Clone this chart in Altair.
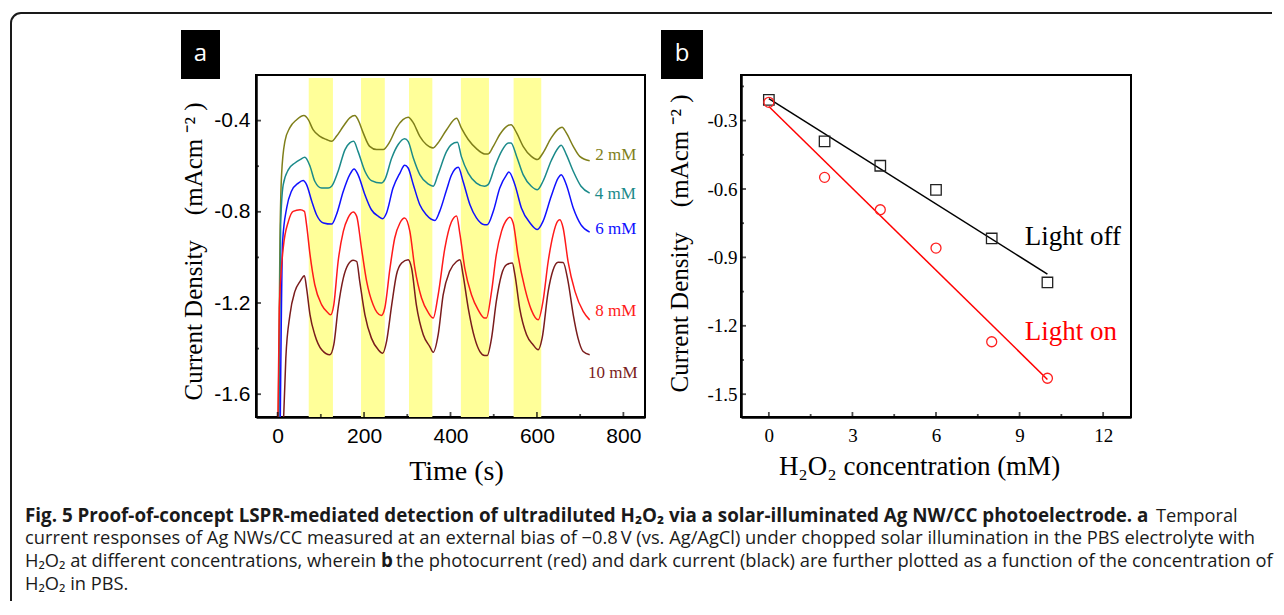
import altair as alt
import pandas as pd

# ---------------- panel a data ----------------
BAND_START = [72, 193, 304, 424, 546]
BAND_END = [128, 248, 358, 489, 610]

T_2MM = [1.5, 5.4, 9.2, 17, 28, 44, 61, 71, 82, 98, 113, 125, 136, 152, 167, 179, 186, 198, 213, 229,
         244, 260, 275, 290, 302, 314, 329, 344, 360, 371, 391, 414, 425, 441, 460, 479, 487, 499, 514, 530,
         540, 553, 568, 587, 601, 614, 633, 649, 658, 668, 684, 699, 722]
Y_2MM = [-1.75, -0.93, -0.637, -0.49, -0.432, -0.396, -0.378, -0.396, -0.44, -0.469, -0.483, -0.491, -0.469,
         -0.425, -0.388, -0.378, -0.396, -0.454, -0.513, -0.527, -0.527, -0.491, -0.432, -0.396, -0.385, -0.41,
         -0.469, -0.505, -0.52, -0.498, -0.44, -0.39, -0.432, -0.483, -0.523, -0.546, -0.546, -0.513, -0.461,
         -0.425, -0.418, -0.454, -0.513, -0.557, -0.571, -0.542, -0.476, -0.437, -0.429, -0.454, -0.513, -0.557,
         -0.576]

T_4MM = [3, 7, 13, 25, 40, 52, 63, 75, 86, 102, 117, 125, 140, 156, 167, 176, 186, 202, 217, 240,
         248, 264, 279, 294, 302, 314, 329, 348, 360, 371, 391, 402, 416, 425, 441, 460, 479, 487, 503, 518,
         534, 540, 553, 568, 587, 601, 614, 633, 649, 656, 668, 684, 702, 722]
Y_4MM = [-1.75, -0.857, -0.681, -0.615, -0.586, -0.571, -0.561, -0.6, -0.666, -0.696, -0.696, -0.688, -0.622,
         -0.527, -0.498, -0.491, -0.535, -0.622, -0.663, -0.674, -0.659, -0.564, -0.505, -0.48, -0.491, -0.564,
         -0.637, -0.678, -0.688, -0.637, -0.535, -0.505, -0.495, -0.557, -0.63, -0.674, -0.688, -0.681, -0.6,
         -0.535, -0.498, -0.498, -0.557, -0.637, -0.688, -0.703, -0.666, -0.576, -0.52, -0.508, -0.549, -0.622,
         -0.688, -0.718]

T_6MM = [6, 11.6, 21, 32, 48, 59, 67, 79, 90, 106, 125, 136, 152, 167, 177, 186, 202, 217, 233, 243,
         252, 267, 283, 294, 302, 314, 329, 344, 364, 375, 391, 402, 418, 429, 445, 460, 479, 485, 499, 514,
         530, 535, 549, 564, 584, 601, 614, 633, 649, 656, 668, 684, 702, 722]
Y_6MM = [-1.75, -0.93, -0.783, -0.71, -0.674, -0.663, -0.681, -0.754, -0.813, -0.849, -0.854, -0.813, -0.71,
         -0.637, -0.612, -0.637, -0.725, -0.791, -0.82, -0.83, -0.805, -0.696, -0.63, -0.596, -0.608, -0.681,
         -0.769, -0.813, -0.838, -0.798, -0.703, -0.64, -0.605, -0.666, -0.769, -0.827, -0.857, -0.857, -0.798,
         -0.696, -0.637, -0.625, -0.681, -0.783, -0.849, -0.878, -0.842, -0.732, -0.652, -0.637, -0.681, -0.783,
         -0.857, -0.889]

T_8MM = [0.5, 3.9, 13, 25, 36, 52, 62, 67, 75, 86, 102, 117, 122.5, 130, 140, 152, 163, 175, 183, 194,
         206, 221, 240, 248, 260, 271, 283, 294, 306, 317.5, 333, 348, 360, 371.5, 387, 402, 414, 422, 433,
         448.5, 464, 479, 483, 495, 506, 518, 530, 537, 545, 556, 572, 587, 603, 614, 626, 637.5, 647.6, 653,
         660.6, 672, 688, 707, 722]
Y_8MM = [-1.75, -1.222, -0.959, -0.842, -0.798, -0.791, -0.798, -0.857, -0.988, -1.12, -1.208, -1.244, -1.252,
         -1.208, -1.018, -0.886, -0.827, -0.801, -0.82, -0.959, -1.105, -1.208, -1.255, -1.222, -1.047, -0.915,
         -0.849, -0.827, -0.886, -1.047, -1.178, -1.24, -1.266, -1.164, -0.959, -0.845, -0.818, -0.9, -1.047,
         -1.164, -1.23, -1.266, -1.266, -1.149, -0.988, -0.886, -0.835, -0.824, -0.849, -0.988, -1.135, -1.23,
         -1.274, -1.193, -1.018, -0.9, -0.842, -0.835, -0.871, -1.018, -1.149, -1.237, -1.274]

T_10MM = [13, 19, 28.5, 40, 52, 62, 67, 75, 86, 102, 121, 130, 140, 152, 163, 175, 183, 190, 202, 217,
          233, 243, 252, 264, 275, 287, 302, 310, 321, 337, 352, 360, 371.5, 383, 398, 414, 422, 429, 441, 456,
          468, 479, 485, 495, 506, 518, 530, 543, 549, 560, 576, 591, 603, 612, 626, 637.5, 649, 660.6, 672, 684,
          695, 707, 722]
Y_10MM = [-1.75, -1.442, -1.252, -1.149, -1.105, -1.08, -1.135, -1.252, -1.339, -1.405, -1.427, -1.383, -1.222,
          -1.091, -1.032, -1.012, -1.018, -1.105, -1.252, -1.354, -1.405, -1.42, -1.369, -1.208, -1.076, -1.025,
          -1.01, -1.047, -1.208, -1.339, -1.391, -1.416, -1.339, -1.164, -1.061, -1.018, -1.01, -1.076, -1.222,
          -1.354, -1.413, -1.43, -1.43, -1.354, -1.193, -1.076, -1.032, -1.025, -1.076, -1.222, -1.339, -1.383,
          -1.405, -1.354, -1.149, -1.054, -1.021, -1.022, -1.105, -1.252, -1.354, -1.413, -1.427]

SERIES = ["2 mM", "4 mM", "6 mM", "8 mM", "10 mM"]
COLORS = ["#7f7f1a", "#1b8a8a", "#1010ff", "#ff1a1a", "#7a1c1c"]
LABEL_T = [735, 734, 735, 735, 718]
LABEL_Y = [-0.549, -0.722, -0.875, -1.234, -1.509]

XA_TICKS = [0, 200, 400, 600, 800]
XA_MINOR = [100, 300, 500, 700]
YA_TICKS = [-0.4, -0.8, -1.2, -1.6]
YA_MINOR = [-0.6, -1.0, -1.4]

# ---------------- panel b data ----------------
CONC = [0, 2, 4, 6, 8, 10]
DARK = [-0.209, -0.391, -0.498, -0.604, -0.817, -1.01]
PHOTO = [-0.22, -0.549, -0.691, -0.859, -1.27, -1.43]
LIGHT_LABELS = ["Light off", "Light on"]
LIGHT_X = [9.19, 9.19]
LIGHT_Y = [-0.812, -1.229]

XB_TICKS = [0, 3, 6, 9, 12]
XB_MINOR = [1.5, 4.5, 7.5, 10.5]
YB_TICKS = [-0.3, -0.6, -0.9, -1.2, -1.5]
YB_MINOR = [-0.15, -0.45, -0.75, -1.05, -1.35]

# ---------------- texts ----------------
Y_TITLE = "Current Density\u00a0\u00a0\u00a0\u00a0(mAcm\u00a0\u207b\u00b2\u00a0)"
XA_TITLE = "Time (s)"
XB_TITLE = "H\u2082O\u2082 concentration (mM)"
CAP_L1_BOLD = "Fig. 5 Proof-of-concept LSPR-mediated detection of ultradiluted H\u2082O\u2082 via a solar-illuminated Ag NW/CC photoelectrode. a"
CAP_L1_REG = "Temporal"
CAP_L2 = "current responses of Ag NWs/CC measured at an external bias of \u22120.8\u2009V (vs. Ag/AgCl) under chopped solar illumination in the PBS electrolyte with"
CAP_L3A = "H\u2082O\u2082 at different concentrations, wherein"
CAP_L3B = "b"
CAP_L3C = "the photocurrent (red) and dark current (black) are further plotted as a function of the concentration of"
CAP_L4 = "H\u2082O\u2082 in PBS."

W_A, W_B, H = 389, 390, 342
SERIF = "Liberation Serif"
NEG_LABEL = "(datum.value < 0 ? '-' : '') + format(abs(datum.value), '.1f')"

# ---------------- panel a ----------------
AXIS_XA = alt.Axis(values=XA_TICKS, ticks=False, tickSize=0, labelPadding=8, labelFont="Liberation Sans",
                   labelFontSize=21, labelColor="black", labelFlush=False, format="d",
                   title=XA_TITLE, titleFont=SERIF, titleFontSize=28, titleFontWeight="normal",
                   titleColor="black", titleX=200, titleY=54, titleBaseline="middle", titleAlign="center",
                   domainColor="black", domainWidth=2.5, grid=False)
AXIS_YA = alt.Axis(values=YA_TICKS, ticks=False, tickSize=0, labelPadding=6, labelFont="Liberation Sans",
                   labelFontSize=21, labelColor="black", labelExpr=NEG_LABEL, labelFlush=False,
                   title=Y_TITLE, titleFont=SERIF, titleFontSize=25, titleFontWeight="normal",
                   titleColor="black", titleX=-63, titleY=176, titleAngle=270, titleBaseline="middle",
                   titleAlign="center", domainColor="black", domainWidth=2.5, grid=False)


def xa(f):
    return alt.X(f"{f}:Q", scale=alt.Scale(domain=[-50, 850], nice=False, zero=False), axis=AXIS_XA)


def ya(f):
    return alt.Y(f"{f}:Q", scale=alt.Scale(domain=[-1.7, -0.2], nice=False, zero=False), axis=AXIS_YA)


rows = []
for name, ts, ys in zip(SERIES, [T_2MM, T_4MM, T_6MM, T_8MM, T_10MM], [Y_2MM, Y_4MM, Y_6MM, Y_8MM, Y_10MM]):
    for i, (t, y) in enumerate(zip(ts, ys)):
        rows.append({"series": name, "t": t, "j": y, "i": i})
df_curves = pd.DataFrame(rows)
df_bands = pd.DataFrame({"start": BAND_START, "end": BAND_END})
df_lab_a = pd.DataFrame({"series": SERIES, "lt": LABEL_T, "ly": LABEL_Y})
color_a = alt.Color("series:N", scale=alt.Scale(domain=SERIES, range=COLORS), legend=None)

bands = alt.Chart(df_bands).mark_rect(color="#ffff99").encode(
    x=xa("start"), x2="end:Q", y=alt.value(3), y2=alt.value(H))
curves = alt.Chart(df_curves).mark_line(strokeWidth=1.5, interpolate="monotone", clip=True).encode(
    x=xa("t"), y=ya("j"), color=color_a, order="i:Q", detail="series:N")
labels_a = alt.Chart(df_lab_a).mark_text(font=SERIF, fontSize=17, align="left", baseline="middle").encode(
    x=xa("lt"), y=ya("ly"), text="series:N", color=color_a)


def xticks(vals, xf, size):
    return alt.Chart(pd.DataFrame({"v": vals})).mark_tick(
        orient="vertical", size=size, thickness=1.8, color="black").encode(x=xf("v"), y=alt.value(H - size / 2))


def yticks(vals, yf, size):
    return alt.Chart(pd.DataFrame({"v": vals})).mark_tick(
        orient="horizontal", size=size, thickness=1.8, color="black").encode(y=yf("v"), x=alt.value(size / 2))


one = pd.DataFrame({"k": [0]})


def tag(letter, x1, x2):
    box = alt.Chart(one).mark_rect(color="black").encode(
        x=alt.value(x1), x2=alt.value(x2), y=alt.value(-45), y2=alt.value(4))
    txt = alt.Chart(one).mark_text(text=letter, font="Open Sans", fontSize=24, color="white",
                                   align="center", baseline="middle").encode(
        x=alt.value((x1 + x2) / 2), y=alt.value(-21))
    return box, txt


# ---------------- caption + frame (positioned relative to panel a's plot origin) ----------------
CAP_FONT = "Open Sans"
CAP_SIZE = 18.3
CAP_BOLD_SIZE = 18.8
CAP_COLOR = "#1a1a1a"


def cap(txt, x, y, bold=False, align="left"):
    return alt.Chart(one).mark_text(text=txt, font=CAP_FONT, fontSize=CAP_BOLD_SIZE if bold else CAP_SIZE,
                                    fontWeight="bold" if bold else "normal", align=align,
                                    baseline="alphabetic", color=CAP_COLOR).encode(
        x=alt.value(x), y=alt.value(y))


caption_layers = [
    cap(CAP_L1_BOLD, -231, 446.7, True),
    cap(CAP_L1_REG, 900, 446.7),
    cap(CAP_L2, -231, 469.3),
    cap(CAP_L3A, -231, 492),
    cap(CAP_L3B, 131, 492, True, "center"),
    cap(CAP_L3C, 140, 492),
    cap(CAP_L4, -231, 514.5),
    alt.Chart(one).mark_rule(color=CAP_COLOR, strokeWidth=2).encode(
        x=alt.value(-235), x2=alt.value(1016), y=alt.value(-62)),
    alt.Chart(one).mark_rule(color=CAP_COLOR, strokeWidth=2).encode(
        x=alt.value(-245), y=alt.value(-52), y2=alt.value(526)),
    alt.Chart(one).mark_arc(radius=11, radius2=9, theta=4.712389, theta2=6.283185, color=CAP_COLOR).encode(
        x=alt.value(-235), y=alt.value(-52)),
]

tag_a = tag("a", -75, -36)
panel_a = alt.layer(
    bands, curves, labels_a,
    xticks(XA_TICKS, xa, 5), xticks(XA_MINOR, xa, 3),
    yticks(YA_TICKS, ya, 5), yticks(YA_MINOR, ya, 3),
    *tag_a,
    *caption_layers,
).properties(width=W_A, height=H,
             view=alt.ViewBackground(stroke="black", strokeWidth=2, strokeOpacity=1))

# ---------------- panel b ----------------
AXIS_XB = alt.Axis(values=XB_TICKS, ticks=False, tickSize=0, labelPadding=9, labelFont=SERIF,
                   labelFontSize=19, labelColor="black", labelFlush=False, format="d",
                   title=XB_TITLE, titleFont=SERIF, titleFontSize=27, titleFontWeight="normal",
                   titleColor="black", titleX=178, titleY=49, titleBaseline="middle", titleAlign="center",
                   domainColor="black", domainWidth=2.5, grid=False)
AXIS_YB = alt.Axis(values=YB_TICKS, ticks=False, tickSize=0, labelPadding=4, labelFont=SERIF,
                   labelFontSize=19, labelColor="black", labelExpr=NEG_LABEL, labelFlush=False,
                   title=Y_TITLE, titleFont=SERIF, titleFontSize=25, titleFontWeight="normal",
                   titleColor="black", titleX=-62, titleY=168, titleAngle=270, titleBaseline="middle",
                   titleAlign="center", domainColor="black", domainWidth=2.5, grid=False)


def xb(f):
    return alt.X(f"{f}:Q", scale=alt.Scale(domain=[-1, 13], nice=False, zero=False), axis=AXIS_XB)


def yb(f):
    return alt.Y(f"{f}:Q", scale=alt.Scale(domain=[-1.6, -0.1], nice=False, zero=False), axis=AXIS_YB)


df_b = pd.DataFrame({"conc": CONC, "dark": DARK, "photo": PHOTO})
fit_dark = alt.Chart(df_b).transform_regression("conc", "dark", extent=[0, 10]).mark_line(
    color="black", strokeWidth=1.5).encode(x=xb("conc"), y=yb("dark"))
fit_photo = alt.Chart(df_b).transform_regression("conc", "photo", extent=[0, 10]).mark_line(
    color="#ff0000", strokeWidth=1.5).encode(x=xb("conc"), y=yb("photo"))
pts_dark = alt.Chart(df_b).mark_point(shape="square", filled=False, color="#222222", size=110,
                                      strokeWidth=1.3, opacity=1).encode(x=xb("conc"), y=yb("dark"))
pts_photo = alt.Chart(df_b).mark_point(shape="circle", filled=False, color="#ff2020", size=100,
                                       strokeWidth=1.3, opacity=1).encode(x=xb("conc"), y=yb("photo"))
df_lab_b = pd.DataFrame({"name": LIGHT_LABELS, "lx": LIGHT_X, "ly": LIGHT_Y})
lab_off = alt.Chart(df_lab_b).transform_filter(alt.datum.name == LIGHT_LABELS[0]).mark_text(
    font=SERIF, fontSize=27, align="left", baseline="middle", color="black").encode(
    x=xb("lx"), y=yb("ly"), text="name:N")
lab_on = alt.Chart(df_lab_b).transform_filter(alt.datum.name == LIGHT_LABELS[1]).mark_text(
    font=SERIF, fontSize=27, align="left", baseline="middle", color="#ff0000").encode(
    x=xb("lx"), y=yb("ly"), text="name:N")

tag_b = tag("b", -80, -38)
panel_b = alt.layer(
    fit_dark, fit_photo, pts_dark, pts_photo, lab_off, lab_on,
    xticks(XB_TICKS, xb, 5), xticks(XB_MINOR, xb, 3),
    yticks(YB_TICKS, yb, 5), yticks(YB_MINOR, yb, 3),
    *tag_b,
).properties(width=W_B, height=H,
             view=alt.ViewBackground(stroke="black", strokeWidth=2, strokeOpacity=1))

chart = alt.hconcat(panel_a, panel_b, spacing=96, bounds="flush").properties(
    padding={"left": 1, "top": 3, "right": 0, "bottom": 0}
).configure_view(strokeOpacity=0).configure_axis(grid=False)

chart.save("out.html", embed_options={"renderer": "svg", "actions": False})
